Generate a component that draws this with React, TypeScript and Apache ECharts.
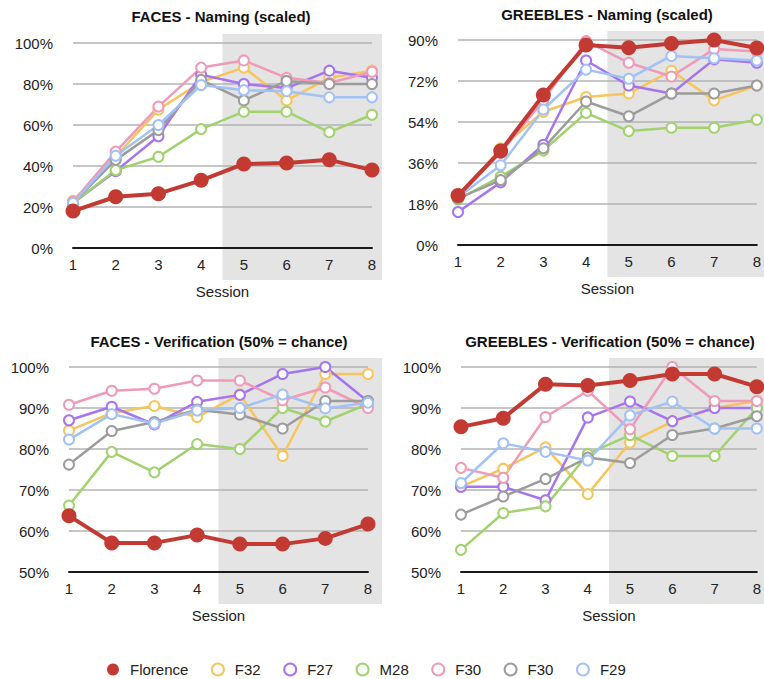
import React, { useEffect, useRef } from 'react';
import * as echarts from 'echarts';

const sessions = [1, 2, 3, 4, 5, 6, 7, 8];
const participants = ['Florence', 'F32', 'F27', 'M28', 'F30a', 'F30b', 'F29'];
const participantLabels = ['Florence', 'F32', 'F27', 'M28', 'F30', 'F30', 'F29'];
const colors = ['#c23a32', '#f7c55e', '#a674f1', '#a1d26f', '#ef9ab9', '#9c9c9c', '#a2c2f5'];

const panelTitles = [
  'FACES - Naming (scaled)',
  'GREEBLES - Naming (scaled)',
  'FACES - Verification (50% = chance)',
  'GREEBLES - Verification (50% = chance)',
];
const yMins = [0, 0, 50, 50];
const yMaxs = [100, 90, 100, 100];
const yIntervals = [20, 18, 10, 10];

// rows follow `participants`
const facesNaming = [
  [18, 25, 26.5, 33, 41, 41.5, 43, 38],
  [23, 44.5, 67.5, 81, 88, 72, 83, 86.5],
  [22, 37.5, 54.5, 84.5, 80, 78, 86.5, 83],
  [22, 38, 44.5, 58, 66.5, 66.5, 56.5, 65],
  [22.5, 47, 69, 88, 91.5, 83, 80.5, 86],
  [22, 43, 57.5, 82, 72, 81.5, 80, 80],
  [22, 45, 60, 79.5, 77, 76.5, 73.5, 73.5],
];
const greeblesNaming = [
  [21.7, 41.3, 65.9, 87.8, 86.6, 88.5, 90, 86.5],
  [20.5, 42.5, 58.5, 65, 66.5, 76.5, 63.5, 70],
  [14.5, 27.5, 44, 81, 70, 66.5, 81.5, 80],
  [20, 30, 41.5, 58, 50, 51.5, 51.5, 55],
  [21, 40.5, 63.5, 89.5, 80, 74, 86, 85],
  [20.5, 28.5, 42.5, 63, 56.5, 66.5, 66.5, 70],
  [21, 35, 59.5, 77, 73, 83, 82, 81],
];
const facesVerification = [
  [63.7, 57.1, 57.1, 59, 56.8, 56.8, 58.2, 61.7],
  [84.5, 88.8, 90.5, 87.8, 93.3, 78.3, 98.3, 98.3],
  [87, 90.3, 86, 91.5, 93.2, 98.3, 100, 91.6],
  [66.2, 79.3, 74.3, 81.2, 80, 90, 86.7, 91],
  [90.8, 94.2, 94.7, 96.7, 96.7, 91.9, 95, 90],
  [76.2, 84.4, 86.6, 89.6, 88.4, 85, 91.7, 91.7],
  [82.3, 88.5, 86.2, 89.4, 90, 93.3, 89.9, 91.3],
];
const greeblesVerification = [
  [85.4, 87.5, 95.8, 95.5, 96.7, 98.3, 98.3, 95.2],
  [70.8, 75.2, 80.4, 69, 81.6, 86.7, 90, 91.7],
  [70.8, 70.8, 67.5, 87.7, 91.6, 86.8, 90, 90],
  [55.4, 64.4, 66, 78.8, 83.4, 78.3, 78.3, 90],
  [75.4, 73, 87.8, 94.2, 84.8, 100, 91.7, 91.7],
  [64, 68.4, 72.7, 77.9, 76.6, 83.4, 85, 88],
  [71.7, 81.4, 79.3, 77.2, 88.2, 91.6, 85, 85],
];
const panelData = [facesNaming, greeblesNaming, facesVerification, greeblesVerification];

const grids = [
  { left: 73, top: 43, width: 299, height: 205 },
  { left: 458, top: 40, width: 299, height: 205 },
  { left: 69, top: 367, width: 299, height: 205 },
  { left: 461, top: 367, width: 299, height: 205 },
];
const titleCenters = [221, 607, 219, 610];
const titleTops = [9, 7, 334, 334];
const panelRightEdges = [382, 764, 382, 764];
const FONT = '"Liberation Sans", Helvetica, Arial, sans-serif';

export default function App() {
  const ref = useRef<HTMLDivElement>(null);
  useEffect(() => {
    if (!ref.current) return;
    const chart = echarts.init(ref.current, undefined, { renderer: 'svg' });
    const series: any[] = [];
    panelData.forEach((rows, i) => {
      rows.forEach((vals, p) => {
        const isF = p === 0;
        series.push({
          type: 'line',
          name: participants[p],
          xAxisIndex: i,
          yAxisIndex: i,
          data: sessions.map((s, k) => [s, vals[k]]),
          symbol: isF ? 'circle' : 'emptyCircle',
          symbolSize: isF ? 15 : 10,
          lineStyle: { width: isF ? 4 : 2.5, color: colors[p] },
          itemStyle: { color: colors[p], borderWidth: isF ? 0 : 2.5 },
          z: isF ? 5 : 3,
          silent: true,
        });
      });
    });
    const option: any = {
      animation: false,
      textStyle: { fontFamily: FONT },
      title: panelTitles.map((t, i) => ({
        text: t,
        left: titleCenters[i],
        top: titleTops[i],
        textAlign: 'center',
        padding: 0,
        textStyle: { fontSize: 15, fontWeight: 'bold', color: '#111', fontFamily: FONT },
      })),
      grid: grids,
      xAxis: grids.map((_, i) => ({
        type: 'value',
        gridIndex: i,
        min: 1,
        max: 8,
        interval: 1,
        name: 'Session',
        nameLocation: 'middle',
        nameGap: 36,
        nameTextStyle: { fontSize: 15, color: '#222', fontFamily: FONT },
        axisLine: { show: true, onZero: false, lineStyle: { color: '#1a1a1a', width: 2 } },
        axisTick: { show: false },
        splitLine: { show: false },
        axisLabel: { fontSize: 15, color: '#222', margin: 9, fontFamily: FONT },
      })),
      yAxis: grids.map((_, i) => ({
        type: 'value',
        gridIndex: i,
        min: yMins[i],
        max: yMaxs[i],
        interval: yIntervals[i],
        axisLine: { show: false },
        axisTick: { show: false },
        splitLine: { show: true, lineStyle: { color: '#b3b3b3', width: 1.5 } },
        axisLabel: { fontSize: 15, color: '#222', margin: 20, formatter: '{value}%', fontFamily: FONT },
      })),
      legend: {
        left: 107,
        top: 662,
        padding: 0,
        itemWidth: 24,
        itemHeight: 12,
        itemGap: 22.5,
        textStyle: { fontSize: 15, color: '#222', fontFamily: FONT },
        formatter: (name: string) => participantLabels[participants.indexOf(name)],
        data: participants.map((n, p) => ({ name: n, icon: p === 0 ? 'circle' : 'emptyCircle' })),
      },
      series,
    };
    chart.setOption(option);
    const rects = grids.map((g, i) => {
      const x0 = chart.convertToPixel({ xAxisIndex: i, yAxisIndex: i } as any, [4.5, yMaxs[i]]) as number[];
      return {
        type: 'rect',
        z: -1,
        silent: true,
        shape: { x: x0[0], y: g.top - 9, width: panelRightEdges[i] - x0[0], height: g.height + 41 },
        style: { fill: '#e4e4e4' },
      };
    });
    chart.setOption({ graphic: rects });
    return () => chart.dispose();
  }, []);
  return <div ref={ref} style={{ position: 'absolute', left: 0, top: 0, width: 764, height: 679 }} />;
}
